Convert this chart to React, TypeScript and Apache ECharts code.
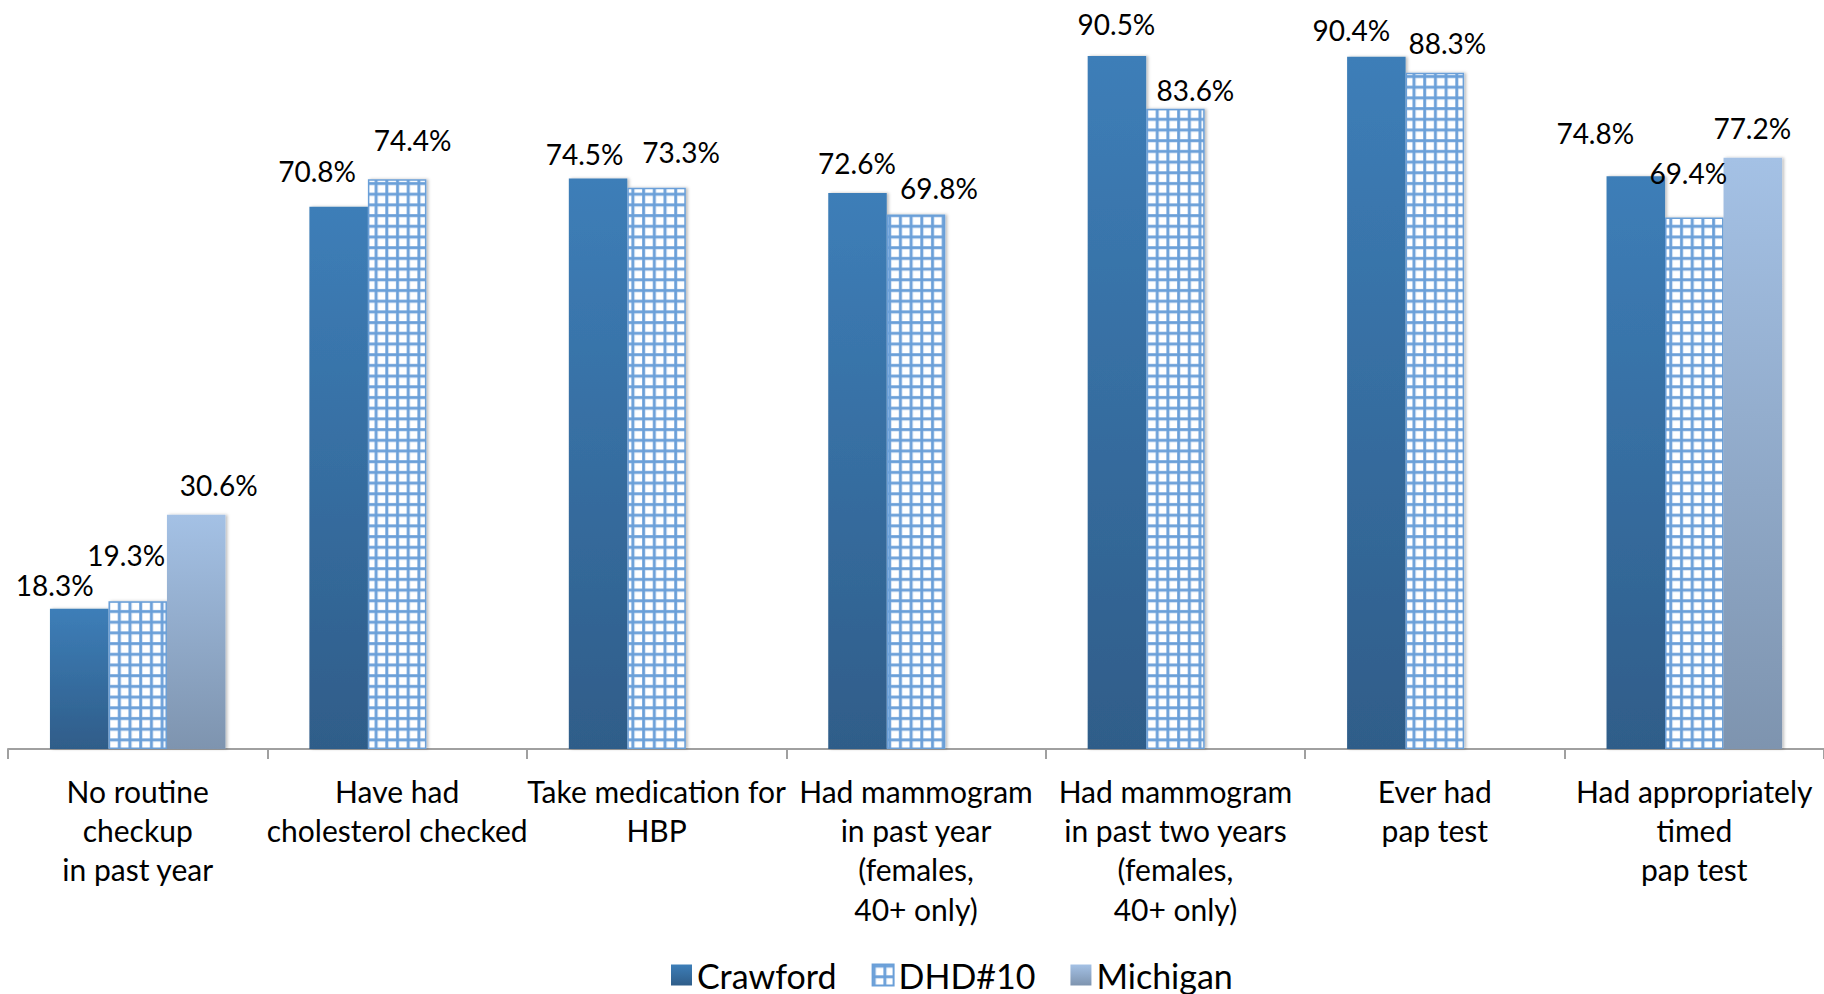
import React, { useEffect, useRef } from "react";
import * as echarts from "echarts";

const categories = [
  "No routine\ncheckup\nin past year",
  "Have had\ncholesterol checked",
  "Take medication for\nHBP",
  "Had mammogram\nin past year\n(females,\n40+ only)",
  "Had mammogram\nin past two years\n(females,\n40+ only)",
  "Ever had\npap test",
  "Had appropriately\ntimed\npap test",
];
const seriesNames = ["Crawford", "DHD#10", "Michigan"];
const crawford = [18.3, 70.8, 74.5, 72.6, 90.5, 90.4, 74.8];
const dhd10 = [19.3, 74.4, 73.3, 69.8, 83.6, 88.3, 69.4];
const michigan: (number | null)[] = [30.6, null, null, null, null, null, 77.2];

// hand-placed label nudges [dx, dy] in px, as in the original chart
const crawfordNudge = [[-24.5, -9], [-21.5, -20.7], [-13.5, -9], [-0.5, -14.7], [-0.5, -17], [-25, -12], [-40.5, -28.5]];
const dhdNudge = [[-11.5, -30.7], [15.5, -24], [24.5, -20.2], [23, -11], [20, -4], [12.5, -14.5], [-6, -30]];
const michiganNudge = [[22.5, -15], [0, 0], [0, 0], [0, 0], [0, 0], [0, 0], [-0.5, -15]];

const FONT = "Lato";

function makePattern() {
  const c = document.createElement("canvas");
  c.width = 32;
  c.height = 32;
  const ctx = c.getContext("2d")!;
  ctx.fillStyle = "#ffffff";
  ctx.fillRect(0, 0, 32, 32);
  ctx.fillStyle = "#a9c8ea";
  ctx.fillRect(0, 0, 10, 32);
  ctx.fillRect(0, 0, 32, 10);
  ctx.fillStyle = "#6a9fd8";
  ctx.fillRect(1, 0, 7, 32);
  ctx.fillRect(0, 1, 32, 7);
  return { image: c.toDataURL(), repeat: "repeat", imageWidth: 10.7, imageHeight: 10.7 } as any;
}

export default function App() {
  const ref = useRef<HTMLDivElement>(null);
  useEffect(() => {
    if (!ref.current) return;
    const chart = echarts.init(ref.current, null, { renderer: "svg" });
    const pattern = makePattern();

    const mkData = (vals: (number | null)[], nudges: number[][]) =>
      vals.map((v, i) =>
        v == null
          ? "-"
          : { value: v, label: { offset: nudges[i] } }
      );

    const labelBase = {
      show: true,
      position: "top",
      distance: 0,
      color: "#000",
      fontFamily: FONT,
      fontSize: 28,
      lineHeight: 30,
      formatter: (p: any) => Number(p.value).toFixed(1) + "%",
    };
    const shadow = {
      shadowColor: "rgba(0,0,0,0.25)",
      shadowBlur: 3,
      shadowOffsetX: 2,
      shadowOffsetY: 0,
    };

    chart.setOption({
      animation: false,
      grid: { left: 8, top: 0, width: 1820, height: 749, containLabel: false },
      legend: {
        data: seriesNames,
        left: 671,
        top: 958,
        itemWidth: 21,
        itemHeight: 21,
        itemGap: 35,
        padding: 0,
        icon: "rect",
        textStyle: { fontFamily: FONT, fontSize: 34, color: "#000", lineHeight: 34 },
      },
      xAxis: {
        type: "category",
        data: categories,
        axisLine: { lineStyle: { color: "#a0a0a0", width: 2 } },
        axisTick: { show: true, length: 10, lineStyle: { color: "#a0a0a0", width: 2 } },
        axisLabel: {
          interval: 0,
          margin: 22,
          color: "#000",
          fontFamily: FONT,
          fontSize: 30,
          lineHeight: 39.3,
        },
      },
      yAxis: { type: "value", min: 0, max: 97.8, show: false, splitLine: { show: false } },
      series: [
        {
          name: seriesNames[0],
          type: "bar",
          barWidth: 58.5,
          barGap: "0%",
          data: mkData(crawford, crawfordNudge),
          label: labelBase,
          itemStyle: {
            color: new echarts.graphic.LinearGradient(0, 0, 0, 1, [
              { offset: 0, color: "#3d7eb8" },
              { offset: 1, color: "#2f5d89" },
            ]),
            ...shadow,
          },
        },
        {
          name: seriesNames[1],
          type: "bar",
          barWidth: 58.5,
          barGap: "0%",
          data: mkData(dhd10, dhdNudge),
          label: labelBase,
          itemStyle: {
            color: pattern,
            borderColor: "#6a9fd8",
            borderWidth: 1.5,
            ...shadow,
          },
        },
        {
          name: seriesNames[2],
          type: "bar",
          barWidth: 58.5,
          barGap: "0%",
          data: mkData(michigan, michiganNudge),
          label: labelBase,
          itemStyle: {
            color: new echarts.graphic.LinearGradient(0, 0, 0, 1, [
              { offset: 0, color: "#a4c1e5" },
              { offset: 1, color: "#7e94af" },
            ]),
            ...shadow,
          },
        },
      ],
    });
    return () => chart.dispose();
  }, []);
  return (
    <div
      ref={ref}
      style={{ position: "absolute", left: 0, top: 0, width: 1824, height: 994, background: "#fff" }}
    />
  );
}
